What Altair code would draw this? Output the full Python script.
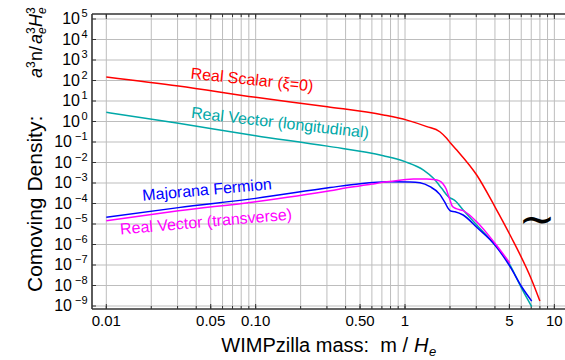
import altair as alt
import pandas as pd

# ---------------- data ----------------
mass_scalar = [0.01, 0.0304, 0.1, 0.302, 0.716, 1.03, 1.40, 1.71, 1.90, 2.0, 2.22, 3.02, 4.0, 5.05, 7.05, 8.0]
dens_scalar = [148, 53.7, 15.1, 5.25, 2.09, 1.17, 0.562, 0.316, 0.151, 0.0955, 0.0407, 2.45e-3, 6.9e-5, 2.9e-6, 1.86e-8, 1.74e-9]

mass_long = [0.01, 0.0304, 0.1, 0.302, 0.716, 1.0, 1.33, 1.55, 1.76, 1.95, 2.1, 2.16, 2.45, 3.02, 4.0, 5.05, 6.04, 7.05]
dens_long = [2.82, 0.813, 0.204, 0.063, 0.0214, 0.011, 4.27e-3, 1.70e-3, 5.5e-4, 2.14e-4, 1.58e-4, 1.38e-4, 4.8e-5, 8.9e-6, 9.5e-7, 1.0e-7, 7.2e-9, 9.3e-10]

mass_major = [0.01, 0.0304, 0.1, 0.315, 0.5, 0.79, 1.08, 1.26, 1.47, 1.71, 1.85, 1.95, 2.02, 2.16, 2.45, 3.02, 4.0, 5.05, 6.04, 7.05]
dens_major = [2.14e-5, 6.3e-5, 1.78e-4, 6.0e-4, 9.3e-4, 1.15e-3, 1.12e-3, 1.02e-3, 6.6e-4, 2.8e-4, 1.12e-4, 5.6e-5, 4.3e-5, 4.0e-5, 2.75e-5, 6.9e-6, 9.5e-7, 8.3e-8, 8.7e-9, 1.74e-9]

mass_trans = [0.01, 0.0304, 0.1, 0.315, 0.428, 0.6, 0.79, 1.14, 1.40, 1.55, 1.70, 1.80, 1.89, 1.95, 2.0, 2.08, 2.2, 2.45, 3.02, 4.0, 5.05]
dens_trans = [1.45e-5, 4.4e-5, 1.23e-4, 4.2e-4, 6.2e-4, 8.9e-4, 1.17e-3, 1.55e-3, 1.55e-3, 1.48e-3, 1.26e-3, 8.9e-4, 5.0e-4, 2.5e-4, 1.48e-4, 7.1e-5, 5.6e-5, 4.5e-5, 1.29e-5, 1.15e-6, 1.2e-7]

series_names = ["Real Scalar (ξ=0)", "Real Vector (longitudinal)", "Majorana Fermion", "Real Vector (transverse)"]
series_colors = ["#ff0000", "#00a8a8", "#0000ff", "#ff00ff"]

x_label_values = [0.01, 0.05, 0.1, 0.5, 1, 5, 10]
x_label_texts = ["0.01", "0.05", "0.10", "0.50", "1", "5", "10"]
x_grid_values = [0.01, 0.02, 0.03, 0.04, 0.05, 0.06, 0.07, 0.08, 0.09,
                 0.1, 0.2, 0.3, 0.4, 0.5, 0.6, 0.7, 0.8, 0.9,
                 1, 2, 3, 4, 5, 6, 7, 8, 9, 10]
y_exponents = [-9, -8, -7, -6, -5, -4, -3, -2, -1, 0, 1, 2, 3, 4, 5]

# ---------------- layout ----------------
LEFT, TOP = 92, 14
W, H = 473, 295
XDOM = [0.00802, 11.78]
YDOM = [10 ** -9.146, 10 ** 5.244]
FONT = "Liberation Sans"
FRAME = "#333333"
GRID = "#bdbdbd"

xs = alt.Scale(type="log", domain=XDOM, nice=False)
ys = alt.Scale(type="log", domain=YDOM, nice=False)

frames = []
for name, ms, ds in [(series_names[0], mass_scalar, dens_scalar),
                     (series_names[1], mass_long, dens_long),
                     (series_names[2], mass_major, dens_major),
                     (series_names[3], mass_trans, dens_trans)]:
    frames.append(pd.DataFrame({"m": ms, "n": ds, "s": name}))
df_lines = pd.concat(frames, ignore_index=True)

df_xgrid = pd.DataFrame({"v": x_grid_values})
df_xlab = pd.DataFrame({"v": x_label_values, "t": x_label_texts})
df_y = pd.DataFrame({"e": y_exponents})
df_y["n"] = [10.0 ** e for e in y_exponents]
df_y["base"] = "10"
df_y["sup"] = [str(e).replace("-", "\u2212") for e in y_exponents]

X = lambda f: alt.X(f, scale=xs, axis=None)
Y = lambda f: alt.Y(f, scale=ys, axis=None)

# gridlines
grid_v = alt.Chart(df_xgrid).mark_rule(color=GRID, strokeWidth=1).encode(x=X("v:Q"))
grid_h = alt.Chart(df_y).mark_rule(color=GRID, strokeWidth=1).encode(y=Y("n:Q"))

# inward ticks
tick_b_minor = alt.Chart(df_xgrid).mark_rule(color=FRAME, strokeWidth=1).encode(
    x=X("v:Q"), y=alt.value(H), y2=alt.value(H - 3))
tick_b_major = alt.Chart(df_xlab).mark_rule(color=FRAME, strokeWidth=1).encode(
    x=X("v:Q"), y=alt.value(H), y2=alt.value(H - 5))
tick_t_minor = alt.Chart(df_xgrid).mark_rule(color=FRAME, strokeWidth=1).encode(
    x=X("v:Q"), y=alt.value(0), y2=alt.value(3))
tick_t_major = alt.Chart(df_xlab).mark_rule(color=FRAME, strokeWidth=1).encode(
    x=X("v:Q"), y=alt.value(0), y2=alt.value(5))
tick_l = alt.Chart(df_y).mark_rule(color=FRAME, strokeWidth=1).encode(
    y=Y("n:Q"), x=alt.value(0), x2=alt.value(4))

one = pd.DataFrame({"k": [0]})
frame_top = alt.Chart(one).mark_rule(color=FRAME, strokeWidth=1.6).encode(
    x=alt.value(0), x2=alt.value(W), y=alt.value(0))
frame_bottom = alt.Chart(one).mark_rule(color=FRAME, strokeWidth=1.6).encode(
    x=alt.value(0), x2=alt.value(W), y=alt.value(H))
frame_left = alt.Chart(one).mark_rule(color=FRAME, strokeWidth=1.6).encode(
    x=alt.value(0), y=alt.value(0), y2=alt.value(H))

# curves
lines = alt.Chart(df_lines).mark_line(strokeWidth=1.5, interpolate="monotone", clip=True).encode(
    x=X("m:Q"),
    y=Y("n:Q"),
    color=alt.Color("s:N", scale=alt.Scale(domain=series_names, range=series_colors), legend=None),
    detail="s:N",
    order=alt.Order("m:Q"),
)

# x tick labels
xlab = alt.Chart(df_xlab).mark_text(
    align="center", baseline="top", font=FONT, fontSize=15, color="black").encode(
    x=X("v:Q"), y=alt.value(H + 5), text="t:N")

# y tick labels: "10" + superscript exponent
ylab_base_pos = alt.Chart(df_y).transform_filter("datum.e >= 0").mark_text(
    align="right", baseline="middle", font=FONT, fontSize=16, color="black").encode(
    y=Y("n:Q"), x=alt.value(-12), text="base:N")
ylab_base_neg = alt.Chart(df_y).transform_filter("datum.e < 0").mark_text(
    align="right", baseline="middle", font=FONT, fontSize=16, color="black").encode(
    y=Y("n:Q"), x=alt.value(-20), text="base:N")
ylab_sup = alt.Chart(df_y).mark_text(
    align="right", baseline="middle", font=FONT, fontSize=11, color="black", dy=-5).encode(
    y=Y("n:Q"), x=alt.value(-4.5), text="sup:N")


def label(text, x, y, size, color="black", angle=0, align="center", baseline="middle",
          style="normal", font=FONT):
    return alt.Chart(pd.DataFrame({"t": [text]})).mark_text(
        align=align, baseline=baseline, angle=angle % 360, fontSize=size, fontStyle=style,
        font=font, color=color).encode(
        x=alt.value(x - LEFT), y=alt.value(y - TOP), text="t:N")


annotations = [
    label(series_names[0], 252, 80, 16, series_colors[0], angle=6),
    label(series_names[1], 280, 123, 16, series_colors[1], angle=6.5),
    label(series_names[2], 207, 190, 16, series_colors[2], angle=-5),
    label(series_names[3], 206, 222, 16, series_colors[3], angle=-5),
    label("\u223c", 537, 221, 44, "black", font="DejaVu Sans"),
    # x title
    label("WIMPzilla mass:\u00a0 m /", 408, 352, 20, align="right", baseline="alphabetic"),
    label("H", 414, 352, 20, align="left", baseline="alphabetic", style="italic"),
    label("e", 429, 356, 13, align="left", baseline="alphabetic", style="italic"),
    # y title (reads upward)
    label("Comoving Density:", 42, 292, 21, angle=270, align="left", baseline="alphabetic"),
    label("a", 42, 78, 18, angle=270, align="left", baseline="alphabetic", style="italic"),
    label("3", 35, 68, 12, angle=270, align="left", baseline="alphabetic"),
    label("n/", 42, 61, 18, angle=270, align="left", baseline="alphabetic"),
    label("a", 42, 44, 18, angle=270, align="left", baseline="alphabetic", style="italic"),
    label("3", 35, 34, 12, angle=270, align="left", baseline="alphabetic"),
    label("e", 46, 34, 12, angle=270, align="left", baseline="alphabetic", style="italic"),
    label("H", 42, 27, 18, angle=270, align="left", baseline="alphabetic", style="italic"),
    label("3", 35, 14, 12, angle=270, align="left", baseline="alphabetic"),
    label("e", 46, 14, 12, angle=270, align="left", baseline="alphabetic", style="italic"),
]

chart = alt.layer(
    grid_v, grid_h, tick_b_minor, tick_b_major, tick_t_minor, tick_t_major, tick_l,
    frame_top, frame_bottom, frame_left,
    lines, xlab, ylab_base_pos, ylab_base_neg, ylab_sup, *annotations
).properties(
    width=W, height=H,
    autosize=alt.AutoSizeParams(type="none"),
    padding={"left": LEFT, "top": TOP, "right": 0, "bottom": 360 - TOP - H},
    background="white",
).configure_view(stroke=None)

chart.save("out.html", embed_options={"renderer": "svg", "actions": False})
